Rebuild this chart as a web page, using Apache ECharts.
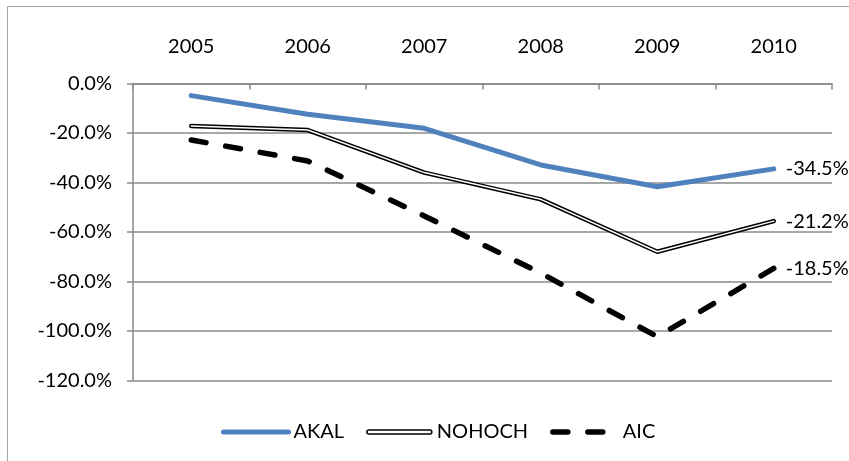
<!DOCTYPE html>
<html>
<head>
<meta charset="utf-8">
<script src="https://cdn.jsdelivr.net/npm/echarts@6/dist/echarts.min.js"></script>
<style>
  html, body { margin: 0; padding: 0; background: #fff; }
  #chart { width: 849px; height: 461px; }
</style>
</head>
<body>
<div id="chart"></div>
<script>
// Years along the top axis
const years = ['2005', '2006', '2007', '2008', '2009', '2010'];

// Yearly variation per field (%)
const akal = [-4.9, -12.4, -18.1, -32.9, -41.7, -34.5];
const nohoch = [-17.2, -18.8, -36.0, -46.8, -68.0, -55.6];
const aic = [-22.8, -31.3, -53.5, -76.6, -102.3, -74.7];

// Notes printed next to the 2010 point of each series
const endNotes = ['-34.5%', '-21.2%', '-18.5%'];

// Value axis ticks (%)
const yTicks = [0, -20, -40, -60, -80, -100, -120];

const FONT = 'Lato';
const GRID_GRAY = '#8a8a8a';

const chart = echarts.init(document.getElementById('chart'), null, { renderer: 'canvas' });

const noteLabel = (text) => ({
  show: true,
  formatter: () => text,
  distance: 12,
  color: '#000',
  fontFamily: FONT,
  fontSize: 20
});

// legend entries for plain lines: hide the marker, keep the line
const hiddenMarker = { opacity: 0 };

chart.setOption({
  animation: false,
  backgroundColor: '#fff',
  textStyle: { fontFamily: FONT },
  graphic: [{
    type: 'rect',
    shape: { x: 7.5, y: 6.5, width: 900, height: 500 },
    style: { fill: 'none', stroke: '#a6a6a6', lineWidth: 1 },
    silent: true,
    z: -10
  }],
  grid: { left: 133, right: 17, top: 83.5, bottom: 80.5 },
  legend: {
    left: 216,
    top: 417,
    itemWidth: 65,
    itemHeight: 14,
    itemGap: 22,
    lineStyle: { width: 'inherit' },
    textStyle: { fontFamily: FONT, fontSize: 20, color: '#000' },
    data: [
      { name: 'AKAL', itemStyle: hiddenMarker },
      {
        name: 'NOHOCH',
        icon: 'path://M2,0H62A2,2 0 0 1 62,4H2A2,2 0 0 1 2,0Z',
        itemStyle: { color: '#fff', borderColor: '#000', borderWidth: 1.5 }
      },
      { name: 'AIC', itemStyle: hiddenMarker }
    ]
  },
  xAxis: {
    type: 'category',
    position: 'top',
    data: years,
    boundaryGap: true,
    axisLine: { show: true, lineStyle: { color: GRID_GRAY, width: 1.5 } },
    axisTick: { show: true, inside: true, length: 6, lineStyle: { color: GRID_GRAY, width: 1.5 } },
    axisLabel: { color: '#000', fontFamily: FONT, fontSize: 20, margin: 27 },
    splitLine: { show: false }
  },
  yAxis: {
    type: 'value',
    min: yTicks[yTicks.length - 1],
    max: yTicks[0],
    interval: 20,
    axisLine: { show: true, lineStyle: { color: GRID_GRAY, width: 1.5 } },
    axisTick: { show: true, length: 6, lineStyle: { color: GRID_GRAY, width: 1.5 } },
    axisLabel: {
      color: '#000', fontFamily: FONT, fontSize: 20, margin: 21,
      formatter: (v) => v.toFixed(1) + '%'
    },
    splitLine: { show: true, lineStyle: { color: GRID_GRAY, width: 1.5 } }
  },
  series: [
    {
      name: 'AKAL',
      type: 'line',
      data: akal,
      symbol: 'none',
      color: '#4f81bd',
      lineStyle: { color: '#4f81bd', width: 5, cap: 'round', join: 'round' },
      endLabel: noteLabel(endNotes[0]),
      z: 4
    },
    {
      // outer black stroke of the double line
      name: 'NOHOCH',
      type: 'line',
      data: nohoch,
      symbol: 'none',
      color: '#000',
      lineStyle: { color: '#000', width: 4.5, cap: 'round', join: 'round' },
      endLabel: noteLabel(endNotes[1]),
      z: 2
    },
    {
      // inner white core of the double line
      name: 'NOHOCH',
      type: 'line',
      data: nohoch,
      symbol: 'none',
      color: '#fff',
      lineStyle: { color: '#fff', width: 1.5, cap: 'round', join: 'round' },
      z: 3
    },
    {
      name: 'AIC',
      type: 'line',
      data: aic,
      symbol: 'none',
      color: '#000',
      lineStyle: { color: '#000', width: 5.5, type: [15, 20], cap: 'round', join: 'round' },
      endLabel: noteLabel(endNotes[2]),
      z: 5
    }
  ]
});
</script>
</body>
</html>
